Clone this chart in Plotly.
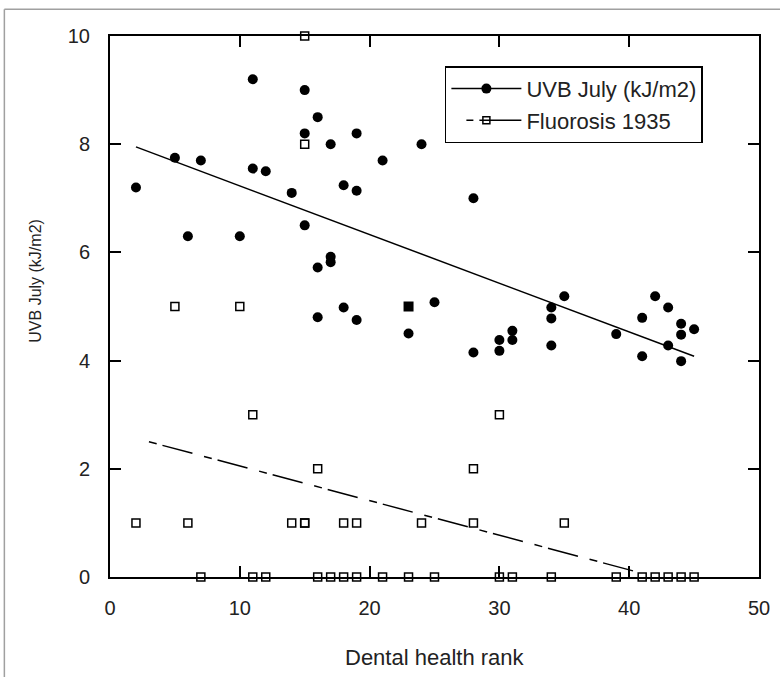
import plotly.graph_objects as go

# ---- data ----
uvb_rank = [2, 5, 6, 7, 10, 11, 11, 12, 14, 15, 15, 15, 16, 16, 16, 17, 17, 17,
            18, 18, 19, 19, 19, 21, 23, 24, 25, 28, 28, 30, 30, 31, 31, 34, 34, 34,
            35, 39, 41, 41, 42, 43, 43, 44, 44, 44, 45]
uvb_july = [7.2, 7.75, 6.3, 7.7, 6.3, 9.2, 7.55, 7.5, 7.1, 9.0, 8.2, 6.5, 8.5, 5.72, 4.8, 8.0, 5.92, 5.82,
            7.24, 4.98, 8.2, 7.14, 4.75, 7.7, 4.5, 8.0, 5.08, 7.0, 4.15, 4.38, 4.18, 4.55, 4.38, 4.98, 4.78, 4.28,
            5.19, 4.49, 4.79, 4.08, 5.19, 4.98, 4.28, 4.68, 4.48, 3.99, 4.58]

fl_rank = [2, 5, 6, 7, 10, 11, 11, 12, 14, 15, 15, 15, 15, 16, 16, 17, 18, 18,
           19, 19, 21, 23, 24, 25, 28, 28, 30, 30, 31, 34, 35, 39, 41, 42, 43, 44, 45]
fl_1935 = [1, 5, 1, 0, 5, 3, 0, 0, 1, 10, 8, 1, 1, 2, 0, 0, 1, 0,
           1, 0, 0, 0, 1, 0, 2, 1, 3, 0, 0, 0, 1, 0, 0, 0, 0, 0, 0]

# overlapping point (circle and square coincide)
overlap_rank = [23]
overlap_val = [5]

# trend lines (end points)
uvb_trend_x = [2, 45]
uvb_trend_y = [7.95, 4.08]
fl_trend_x = [3, 40.5]
fl_trend_y = [2.5, 0.1]

FONT = "Liberation Sans, Arial, sans-serif"
DASH = "8px,6px,31px,12px"

fig = go.Figure()

fig.add_trace(go.Scatter(x=uvb_trend_x, y=uvb_trend_y, mode="lines",
                         line=dict(color="black", width=1.5), showlegend=False,
                         cliponaxis=False))
fig.add_trace(go.Scatter(x=fl_trend_x, y=fl_trend_y, mode="lines",
                         line=dict(color="black", width=1.5, dash=DASH), showlegend=False,
                         cliponaxis=False))
fig.add_trace(go.Scatter(x=fl_rank, y=fl_1935, mode="markers",
                         marker=dict(symbol="square-open", size=8, color="black",
                                     line=dict(width=1.5, color="black")),
                         showlegend=False, cliponaxis=False))
fig.add_trace(go.Scatter(x=uvb_rank, y=uvb_july, mode="markers",
                         marker=dict(symbol="circle", size=10, color="black"),
                         showlegend=False, cliponaxis=False))
fig.add_trace(go.Scatter(x=overlap_rank, y=overlap_val, mode="markers",
                         marker=dict(symbol="square", size=10, color="black"),
                         showlegend=False, cliponaxis=False))

# legend entries
fig.add_trace(go.Scatter(x=[None], y=[None], mode="lines+markers", name="UVB July (kJ/m2)",
                         line=dict(color="black", width=1.5),
                         marker=dict(symbol="circle", size=10, color="black")))
fig.add_trace(go.Scatter(x=[None], y=[None], mode="lines+markers", name="Fluorosis 1935",
                         line=dict(color="black", width=1.5, dash="0px,15px,7px,6px,60px,0px"),
                         marker=dict(symbol="square-open", size=7, color="black",
                                     line=dict(width=1.5, color="black"))))

axis_common = dict(showgrid=False, zeroline=False, showline=True, linecolor="black",
                   linewidth=2, mirror="ticks", ticks="inside", ticklen=11, tickwidth=2,
                   tickcolor="black", automargin=False,
                   tickfont=dict(family=FONT, size=20, color="#222"))

fig.update_xaxes(range=[0, 50], tickvals=[0, 10, 20, 30, 40, 50], ticklabelstandoff=12,
                 **axis_common)
fig.update_yaxes(range=[0, 10], tickvals=[0, 2, 4, 6, 8, 10], ticklabelstandoff=14,
                 **axis_common)

fig.update_layout(
    width=780, height=677,
    margin=dict(l=110, r=21, t=36, b=100),
    paper_bgcolor="white", plot_bgcolor="white",
    font=dict(family=FONT, color="#222"),
    showlegend=True,
    legend=dict(x=0.516, y=0.944, xanchor="left", yanchor="top",
                bordercolor="black", borderwidth=1.5, bgcolor="white",
                font=dict(family=FONT, size=22, color="#222"),
                itemwidth=70, tracegroupgap=0),
    annotations=[
        dict(text="Dental health rank", xref="paper", yref="paper",
             x=0.5, y=(576.7 - 657) / 541, xanchor="center", yanchor="middle",
             showarrow=False, font=dict(family=FONT, size=22, color="#222")),
        dict(text="UVB July (kJ/m2)", xref="paper", yref="paper",
             x=(36 - 110.5) / 648.2, y=(576.7 - 280) / 541, xanchor="center", yanchor="middle",
             textangle=-90, showarrow=False, font=dict(family=FONT, size=16, color="#222")),
    ],
    shapes=[
        dict(type="line", xref="paper", yref="paper", x0=(5 - 110.5) / 648.2, x1=1.05,
             y0=(576.7 - 9) / 541, y1=(576.7 - 9) / 541, line=dict(color="#a0a0a0", width=1.5)),
        dict(type="line", xref="paper", yref="paper", x0=(5 - 110.5) / 648.2, x1=(5 - 110.5) / 648.2,
             y0=(576.7 - 9) / 541, y1=-0.2, line=dict(color="#a0a0a0", width=1.5)),
    ],
)

fig.write_html("out.html", config={"displayModeBar": False},
               post_script="document.body.style.margin='0';")
